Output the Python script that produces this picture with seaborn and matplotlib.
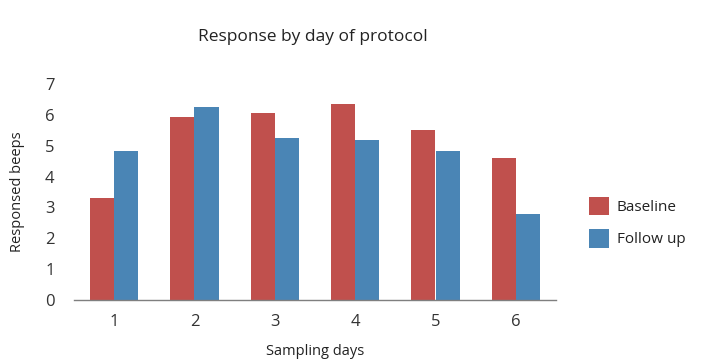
import matplotlib
matplotlib.use("Agg")
import matplotlib.pyplot as plt
import seaborn as sns
import pandas as pd

days = ["1", "2", "3", "4", "5", "6"]
baseline = [3.31, 5.93, 6.06, 6.36, 5.52, 4.59]
follow_up = [4.83, 6.27, 5.26, 5.20, 4.83, 2.78]
groups = ["Baseline", "Follow up"]
yticks = [0, 1, 2, 3, 4, 5, 6, 7]

df = pd.DataFrame({
    "day": days * 2,
    "value": baseline + follow_up,
    "group": [groups[0]] * len(days) + [groups[1]] * len(days),
})

sns.set_theme(style="white")
plt.rcParams["font.family"] = ["Open Sans", "DejaVu Sans"]

fig = plt.figure(figsize=(7.02, 3.59), dpi=100)
ax = fig.add_axes([74 / 702, 1 - 300 / 359, 482 / 702, 216 / 359])

palette = {"Baseline": "#C0504D", "Follow up": "#4A85B5"}
sns.barplot(data=df, x="day", y="value", hue="group", palette=palette,
            width=0.6, saturation=1, linewidth=0, ax=ax, legend=True)

ax.set_xlim(-0.5, 5.5)
ax.set_ylim(0, 216 / 31.2)
ax.set_yticks(yticks)
ax.set_yticklabels([str(t) for t in yticks])
ax.tick_params(axis="both", length=0, labelsize=12, colors="#333333")
ax.tick_params(axis="x", pad=10)
ax.tick_params(axis="y", pad=14)

for s in ["top", "right", "left"]:
    ax.spines[s].set_visible(False)
ax.spines["bottom"].set_color("#7f7f7f")
ax.spines["bottom"].set_linewidth(1)

ax.set_xlabel("Sampling days", fontsize=10.5, color="#222222", labelpad=10)
ax.set_ylabel("Responsed beeps", fontsize=10.5, color="#222222", labelpad=14)
fig.text(313 / 702, 1 - 37 / 359, "Response by day of protocol",
         ha="center", va="center", fontsize=12.5, color="#222222")

leg = ax.legend(loc="center left", bbox_to_anchor=(1.04, 0.36), frameon=False,
                fontsize=11, handlelength=1.3, handleheight=1.5,
                labelspacing=0.9, handletextpad=0.5)
for t in leg.get_texts():
    t.set_color("#222222")

fig.savefig("out.png", dpi=100, facecolor="white")
